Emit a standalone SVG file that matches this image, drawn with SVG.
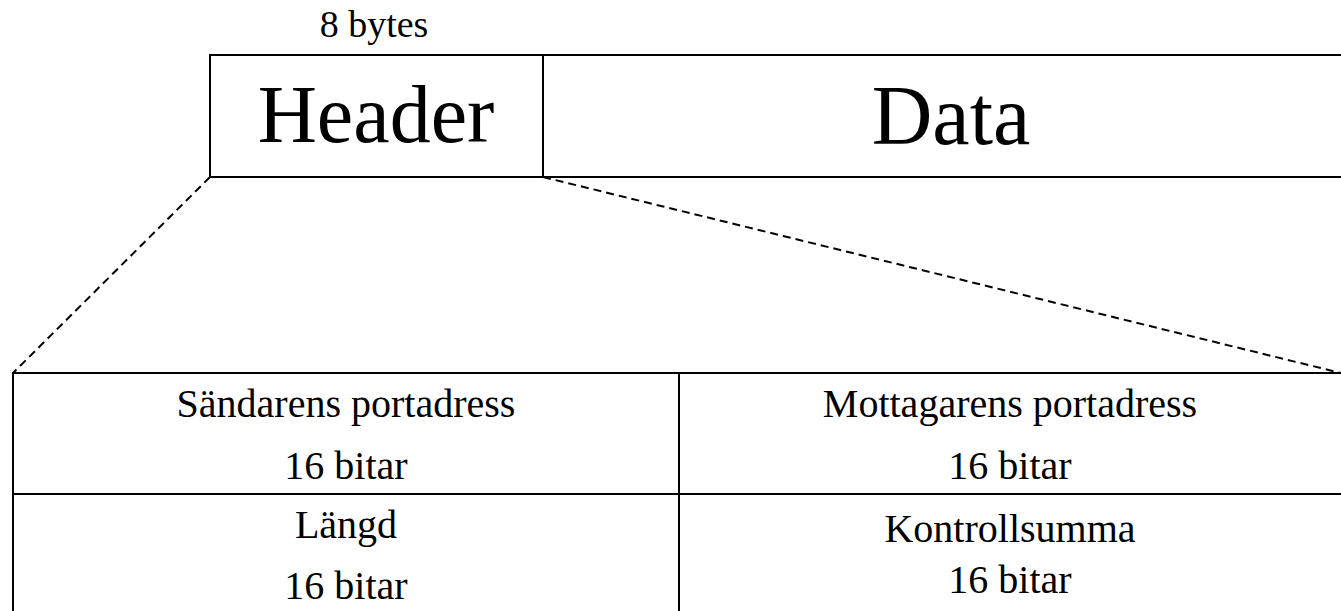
<svg xmlns="http://www.w3.org/2000/svg" width="1341" height="611" viewBox="0 0 1341 611">
<style>
.box{fill:none;stroke:#000;stroke-width:2}
.dash{fill:none;stroke:#000;stroke-width:2;stroke-dasharray:8 5}
text{font-family:"Liberation Serif","Times New Roman",serif;fill:#000;text-anchor:middle}
.big{font-size:82px}
.mid{font-size:40px}
.small{font-size:38px}
</style>
<rect width="1341" height="611" fill="#fff"/>
<g id="connectors">
<line class="dash" x1="210" y1="177" x2="13" y2="373"/>
<line class="dash" x1="543" y1="177" x2="1341" y2="373"/>
</g>
<g id="size-label">
<text class="small" x="374" y="37">8 bytes</text>
</g>
<g id="header">
<rect class="box" x="210" y="55" width="333" height="122"/>
<text class="big" x="376" y="142">Header</text>
</g>
<g id="data">
<rect class="box" x="543" y="55" width="820" height="122"/>
<text class="big" x="951" y="144" style="font-size:84px">Data</text>
</g>
<g id="src-port">
<rect class="box" x="13" y="373" width="666" height="121"/>
<text class="mid" x="346" y="417">Sändarens portadress</text>
<text class="mid" x="346" y="479">16 bitar</text>
</g>
<g id="dst-port">
<rect class="box" x="679" y="373" width="680" height="121"/>
<text class="mid" x="1010" y="417">Mottagarens portadress</text>
<text class="mid" x="1010" y="479">16 bitar</text>
</g>
<g id="length">
<rect class="box" x="13" y="494" width="666" height="130"/>
<text class="mid" x="346" y="538">Längd</text>
<text class="mid" x="346" y="599">16 bitar</text>
</g>
<g id="checksum">
<rect class="box" x="679" y="494" width="680" height="130"/>
<text class="mid" x="1010" y="542">Kontrollsumma</text>
<text class="mid" x="1010" y="593">16 bitar</text>
</g>
</svg>
